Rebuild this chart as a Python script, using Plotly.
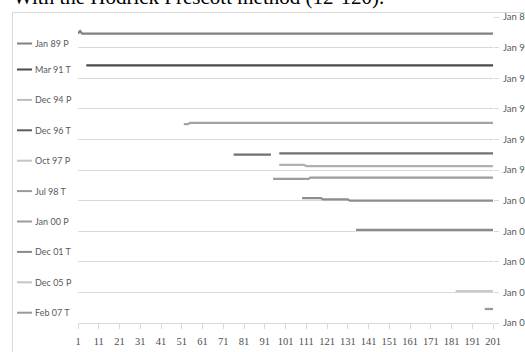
import plotly.graph_objects as go

# ---- data ----
x_index = list(range(1, 202))
x_ticks = list(range(1, 202, 10))
series_names = ["Jan 89 P", "Mar 91 T", "Dec 94 P", "Dec 96 T", "Oct 97 P",
                "Jul 98 T", "Jan 00 P", "Dec 01 T", "Dec 05 P", "Feb 07 T"]
# each series: runs of (first index, last index, dated turning point)
jan89_p = [(1, 1, "1989-02"), (2, 2, "1988-12"), (3, 201, "1989-02")]
mar91_t = [(5, 201, "1991-03")]
dec94_p = [(52, 54, "1995-01"), (55, 201, "1994-12")]
dec96_t = [(76, 94, "1997-01"), (98, 201, "1996-12")]
oct97_p = [(98, 110, "1997-09"), (111, 201, "1997-10")]
jul98_t = [(95, 112, "1998-08"), (113, 201, "1998-07")]
jan00_p = [(109, 118, "1999-11"), (119, 131, "1999-12"), (132, 201, "2000-01")]
dec01_t = [(135, 201, "2001-12")]
dec05_p = [(183, 201, "2005-12")]
feb07_t = [(197, 201, "2007-02")]
series_runs = [jan89_p, mar91_t, dec94_p, dec96_t, oct97_p,
               jul98_t, jan00_p, dec01_t, dec05_p, feb07_t]
y_tick_start = "1988-01-01"
y_range = ["2008-01-01", "1988-01-01"]

# ---- styles ----
colors = ["#808080", "#4a4a4a", "#a3a3a3", "#707070", "#b0b0b0",
          "#9c9c9c", "#8c8c8c", "#8a8a8a", "#c9c9c9", "#999999"]
legend_colors = ["#808080", "#4a4a4a", "#bdbdbd", "#5e5e5e", "#c4c4c4",
                 "#9a9a9a", "#9a9a9a", "#8a8a8a", "#c4c4c4", "#9a9a9a"]
legend_py = [43.5, 69.5, 99.9, 130.3, 160.7, 191.1, 221.5, 251.9, 282.3, 312.7]

L, R, T, B = 78, 32, 17, 29
W, H = 525, 352
PW, PH = W - L - R, H - T - B


def px(xp):
    return (xp - L) / PW


def py(yp):
    return (H - B - yp) / PH


def expand(runs):
    vals = [None] * len(x_index)
    for a, b, d in runs:
        for i in range(a, b + 1):
            vals[i - 1] = d
    return vals


fig = go.Figure()
for name, runs, c in zip(series_names, series_runs, colors):
    fig.add_trace(go.Scatter(x=x_index, y=expand(runs), mode="lines", name=name,
                             line=dict(color=c, width=2.25), connectgaps=False,
                             showlegend=False))

shapes = [dict(type="rect", xref="paper", yref="paper",
               x0=px(12.5), x1=px(560), y0=py(400), y1=py(12.5),
               line=dict(color="#d9d9d9", width=1), layer="below")]
annotations = [dict(text="With the Hodrick Prescott method (12-120).",
                    xref="paper", yref="paper", x=px(11), y=py(-3),
                    xanchor="left", yanchor="middle", showarrow=False,
                    font=dict(family="Liberation Serif", size=21, color="#000000"))]
for name, c, yp in zip(series_names, legend_colors, legend_py):
    shapes.append(dict(type="line", xref="paper", yref="paper",
                       x0=px(17), x1=px(32), y0=py(yp), y1=py(yp),
                       line=dict(color=c, width=2)))
    annotations.append(dict(text=name, xref="paper", yref="paper",
                            x=px(33), y=py(yp), xanchor="left", yanchor="middle",
                            showarrow=False,
                            font=dict(family="Lato", size=9, color="#595959")))

fig.update_layout(
    width=W, height=H,
    margin=dict(l=L, r=R, t=T, b=B, pad=0, autoexpand=False),
    paper_bgcolor="white", plot_bgcolor="white",
    showlegend=False,
    shapes=shapes, annotations=annotations,
    xaxis=dict(range=[1, 201], tickmode="array", tickvals=x_ticks,
               ticks="outside", ticklen=5, tickcolor="#d9d9d9",
               showgrid=False, zeroline=False, showline=True,
               linecolor="#d9d9d9", linewidth=1, automargin=False,
               ticklabelstandoff=3,
               tickfont=dict(family="Liberation Serif", size=10.5, color="#4d4d4d")),
    yaxis=dict(type="date", side="right", range=y_range, autorange=False,
               tick0=y_tick_start, dtick="M24", tickformat="%b %y",
               showgrid=True, gridcolor="#d9d9d9", gridwidth=1,
               ticks="outside", ticklen=5, tickcolor="#d9d9d9",
               zeroline=False, showline=False, automargin=False,
               ticklabelstandoff=2,
               tickfont=dict(family="Lato", size=9.5, color="#595959")),
)

fig.write_html("out.html",
               config={"displayModeBar": False},
               post_script="document.body.style.margin='0px';"
                           "document.body.style.overflow='hidden';")
